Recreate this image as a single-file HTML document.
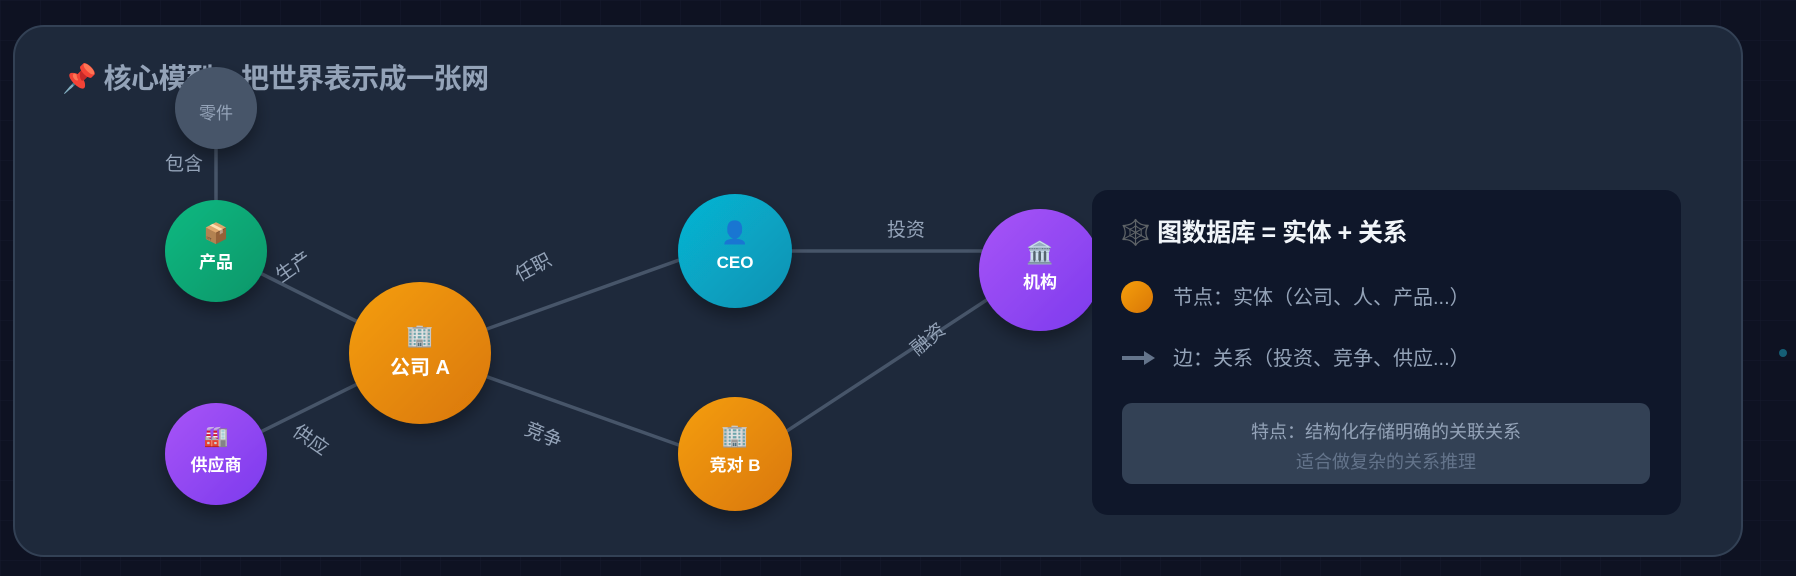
<!DOCTYPE html>
<html><head><meta charset="utf-8"><style>
html,body{margin:0;padding:0;width:1796px;height:576px;overflow:hidden;background:#0e1222;}
body{font-family:"Liberation Sans","Noto Sans CJK SC",sans-serif;}
</style></head><body>
<svg width="1796" height="576" viewBox="0 0 1796 576" xmlns="http://www.w3.org/2000/svg" font-family="Liberation Sans, Noto Sans CJK SC, sans-serif">
<defs>
<pattern id="grid" width="40" height="40" patternUnits="userSpaceOnUse"><path d="M40 0H0V40" fill="none" stroke="#161b2d" stroke-width="1"/></pattern>
<linearGradient id="og" x1="0" y1="0" x2="1" y2="1"><stop offset="0" stop-color="#f59e0b"/><stop offset="1" stop-color="#d97706"/></linearGradient>
<linearGradient id="gg" x1="0" y1="0" x2="1" y2="1"><stop offset="0" stop-color="#10b981"/><stop offset="1" stop-color="#059669"/></linearGradient>
<linearGradient id="pg" x1="0" y1="0" x2="1" y2="1"><stop offset="0" stop-color="#a855f7"/><stop offset="1" stop-color="#7c3aed"/></linearGradient>
<linearGradient id="cg" x1="0" y1="0" x2="1" y2="1"><stop offset="0" stop-color="#06b6d4"/><stop offset="1" stop-color="#0891b2"/></linearGradient>
<filter id="sh" x="-30%" y="-30%" width="160%" height="170%"><feDropShadow dx="0" dy="8" stdDeviation="8" flood-color="#000" flood-opacity="0.35"/></filter>
</defs>
<rect width="1796" height="576" fill="#0e1222"/>
<rect width="1796" height="576" fill="url(#grid)"/>
<circle cx="1783" cy="353" r="4" fill="#155e75"/>
<rect x="14" y="26" width="1728" height="530" rx="30" fill="#1e293b" stroke="#334155" stroke-width="2"/>
<g stroke="#475569" stroke-width="3.5">
<line x1="216" y1="108" x2="216" y2="251"/>
<line x1="216" y1="251" x2="420" y2="353"/>
<line x1="216" y1="454" x2="420" y2="353"/>
<line x1="420" y1="353" x2="735" y2="240"/>
<line x1="420" y1="353" x2="735" y2="465"/>
<line x1="735" y1="251" x2="1040" y2="251"/>
<line x1="735" y1="465" x2="1040" y2="265"/>
</g>
<text x="62" y="88" font-size="28" font-weight="bold" fill="#94a3b8" letter-spacing="-0.5">📌 核心模型：把世界表示成一张网</text>
<g font-size="19" fill="#94a3b8" text-anchor="middle">
<text x="184" y="170">包含</text>
<text x="906" y="236">投资</text>
<text transform="translate(297,272) rotate(-35)">生产</text>
<text transform="translate(536,273) rotate(-28)">任职</text>
<text transform="translate(932,344) rotate(-40)">融资</text>
<text transform="translate(307,445) rotate(35)">供应</text>
<text transform="translate(541,441) rotate(22)">竞争</text>
</g>
<g filter="url(#sh)">
<circle cx="216" cy="108" r="41" fill="#475569"/>
<circle cx="216" cy="251" r="51" fill="url(#gg)"/>
<circle cx="216" cy="454" r="51" fill="url(#pg)"/>
<circle cx="420" cy="353" r="71" fill="url(#og)"/>
<circle cx="735" cy="251" r="57" fill="url(#cg)"/>
<circle cx="735" cy="454" r="57" fill="url(#og)"/>
<circle cx="1040" cy="270" r="61" fill="url(#pg)"/>
</g>
<g text-anchor="middle" fill="#fff" font-weight="bold">
<text x="216" y="119" font-size="17" font-weight="normal" fill="#94a3b8">零件</text>
<text x="216" y="240" font-size="20">📦</text><text x="216" y="268" font-size="17">产品</text>
<text x="216" y="443" font-size="20">🏭</text><text x="216" y="471" font-size="17">供应商</text>
<text x="420" y="343" font-size="22">🏢</text><text x="420" y="374" font-size="20">公司 A</text>
<text x="735" y="240" font-size="22">👤</text><text x="735" y="268" font-size="17">CEO</text>
<text x="735" y="443" font-size="22">🏢</text><text x="735" y="471" font-size="17">竞对 B</text>
<text x="1040" y="260" font-size="22">🏛️</text><text x="1040" y="288" font-size="17">机构</text>
</g>
<rect x="1092" y="190" width="589" height="325" rx="16" fill="#0f172a"/>
<text x="1120" y="241" font-size="25" font-weight="bold" fill="#f1f5f9" letter-spacing="-0.5">🕸️ 图数据库 = 实体 + 关系</text>
<circle cx="1137" cy="297" r="16" fill="url(#og)"/>
<text x="1173" y="304" font-size="20" fill="#94a3b8">节点：实体（公司、人、产品...）</text>
<line x1="1122" y1="358" x2="1146" y2="358" stroke="#64748b" stroke-width="4"/>
<polygon points="1144,351 1155,358 1144,365" fill="#64748b"/>
<text x="1173" y="365" font-size="20" fill="#94a3b8">边：关系（投资、竞争、供应...）</text>
<rect x="1122" y="403" width="528" height="81" rx="10" fill="#334155"/>
<text x="1386" y="438" font-size="18" fill="#94a3b8" text-anchor="middle">特点：结构化存储明确的关联关系</text>
<text x="1386" y="468" font-size="18" fill="#64748b" text-anchor="middle">适合做复杂的关系推理</text>
</svg>
</body></html>
